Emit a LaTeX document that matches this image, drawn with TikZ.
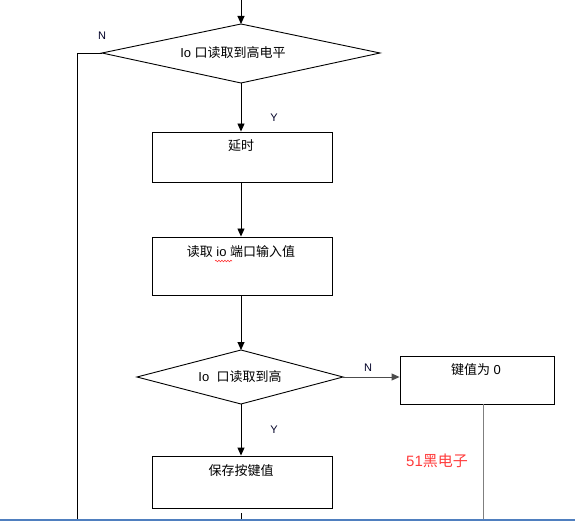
\documentclass[tikz,border=0pt]{standalone}
\usepackage{fontspec}
\setmainfont{Liberation Sans}
\newfontfamily\cjk{Noto Sans CJK SC}
\usetikzlibrary{arrows.meta,decorations.pathmorphing}
\definecolor{lblue}{HTML}{4F7FBF}
\definecolor{wmred}{HTML}{FF3B3B}
\definecolor{lgray}{HTML}{7F7F7F}
\begin{document}
\begin{tikzpicture}[x=1pt,y=-1pt,
  ln/.style={line width=0.9pt, black},
  arr/.style={ln, -{Triangle[width=7pt,length=8pt]}},
  boxst/.style={draw, line width=0.9pt, inner sep=0pt},
  txt/.style={inner sep=0pt, font=\fontsize{13pt}{15pt}\selectfont},
  yn/.style={inner sep=0pt, font=\fontsize{11pt}{13pt}\selectfont, text=black!85!blue}]
\useasboundingbox (0,0) rectangle (575,521);
% boxes
\node[boxst, minimum width=180pt, minimum height=50pt] (b1) at (242,157) {};
\node[boxst, minimum width=180pt, minimum height=58pt] (b2) at (242,266) {};
\node[boxst, minimum width=154pt, minimum height=48pt] (b3) at (477,380) {};
\node[boxst, minimum width=180pt, minimum height=52pt] (b4) at (242,482) {};
% diamonds
\coordinate (d1t) at (241,24); \coordinate (d1b) at (241,83);
\coordinate (d1l) at (102,53); \coordinate (d1r) at (380,53);
\coordinate (d2t) at (241,350); \coordinate (d2b) at (241,404);
\coordinate (d2l) at (137,377); \coordinate (d2r) at (343,377);
\draw[ln] (d1t) -- (d1r) -- (d1b) -- (d1l) -- cycle;
\draw[ln] (d2t) -- (d2r) -- (d2b) -- (d2l) -- cycle;
\node[txt] (d1txt) at (233,53) {Io {\cjk 口读取到高电平}};
\node[txt] (d2txt) at (240,377) {Io\ \ {\cjk 口读取到高}};
% box texts
\node[txt] (t1) at (241,146) {\cjk 延时};
\node[txt] (t2) at (241,252) {{\cjk 读取} io {\cjk 端口输入值}};
\node[txt] (t3) at (476,370) {{\cjk 键值为} 0};
\node[txt] (t4) at (241,471) {\cjk 保存按键值};
\draw[wmred, line width=0.6pt, decorate, decoration={snake, amplitude=0.8pt, segment length=3pt}] (215,261) -- (232,261);
% connectors
\coordinate (top) at (241,0);
\draw[arr] (top) -- (d1t);
\draw[arr] (d1b) -- (b1.north -| d1b);
\draw[arr] (b1.south -| d1b) -- (b2.north -| d1b);
\draw[arr] (b2.south -| d1b) -- (d2t);
\draw[arr] (d2b) -- (b4.north -| d2b);
\draw[arr, lgray!60!black] (d2r) -- (b3.west |- d2r);
\coordinate (lc) at (77,53); \coordinate (lb) at (77,521);
\draw[ln] (d1l) -- (lc) -- (lb);
\coordinate (rb) at (483,521);
\draw[line width=1pt, lgray] (b3.south -| rb) -- (rb);
\coordinate (s4a) at (241,513); \coordinate (s4b) at (241,521);
\draw[ln] (s4a) -- (s4b);
% labels
\node[yn] (n1) at (102,36) {N};
\node[yn] (y1) at (274,118) {Y};
\node[yn] (n2) at (368,368) {N};
\node[yn] (y2) at (274,430) {Y};
\node[inner sep=0pt, text=wmred, font=\fontsize{15pt}{17pt}\selectfont] (wm) at (437,461) {51{\cjk 黑电子}};
% bottom blue line
\coordinate (bl) at (0,520); \coordinate (br) at (575,520);
\draw[lblue, line width=1.6pt] (bl) -- (br);
\end{tikzpicture}
\end{document}
